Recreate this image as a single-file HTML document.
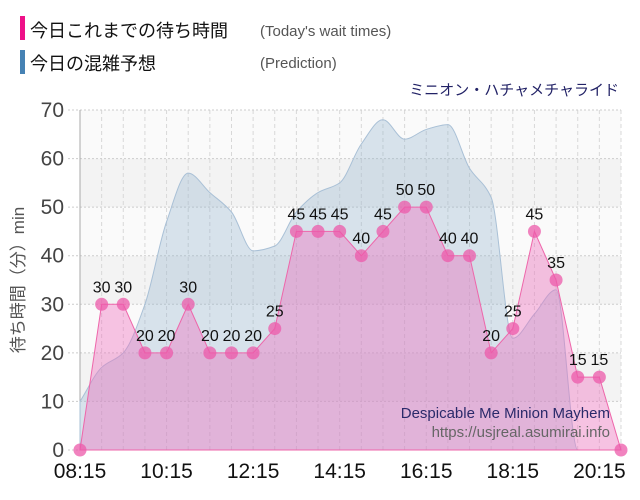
<!DOCTYPE html>
<html><head><meta charset="utf-8"><style>
body{margin:0;background:#fff;width:640px;height:500px;overflow:hidden}
svg{display:block;font-family:"Liberation Sans","Noto Sans CJK JP",sans-serif}
</style></head><body>
<svg id="c" width="640" height="500">
<rect x="20" y="16" width="5" height="24" fill="#ee1188"/>
<text x="30" y="37" font-size="18" fill="#111">今日これまでの待ち時間</text>
<text x="260" y="36" font-size="15" fill="#555">(Today's wait times)</text>
<rect x="20" y="50" width="5" height="24" fill="#4682b4"/>
<text x="30" y="70" font-size="18" fill="#111">今日の混雑予想</text>
<text x="260" y="68" font-size="15" fill="#555">(Prediction)</text>
<text x="619" y="95" font-size="15" fill="#222266" text-anchor="end">ミニオン・ハチャメチャライド</text>
<text transform="translate(24,280) rotate(-90)" font-size="17" fill="#555" text-anchor="middle">待ち時間（分）min</text>
<g id="grid"></g><g id="series"></g><g id="labels"></g>
<text x="610" y="418" font-size="15" fill="#2a2a6a" text-anchor="end">Despicable Me Minion Mayhem</text>
<text x="610" y="437" font-size="15" fill="#666" text-anchor="end">https://usjreal.asumirai.info</text>
</svg>
<script>
const todayValues=[0,30,30,20,20,30,20,20,20,25,45,45,45,40,45,50,50,40,40,20,25,45,35,15,15,0];
const predictionValues=[10,17,20,30,47,57,53,49,41,42,49,53,55,63,68,64,66,67,58,52,23,28,33,0,0,0];
const yTicks=[0,10,20,30,40,50,60,70];
const xTickLabels=["08:15","10:15","12:15","14:15","16:15","18:15","20:15"];
const X0=80,X1=621,Y0=450,Y1=110,N=todayValues.length;
const xs=i=>X0+(X1-X0)*i/(N-1);
const ys=v=>Y0-(Y0-Y1)*v/70;
const NS="http://www.w3.org/2000/svg";
function mk(t,a,p){const e=document.createElementNS(NS,t);for(const k in a)e.setAttribute(k,a[k]);p.appendChild(e);return e;}
const g=document.getElementById('grid'),s=document.getElementById('series'),L=document.getElementById('labels');
for(let k=0;k<7;k++){const r=mk('rect',{x:X0,y:ys((k+1)*10),width:X1-X0,height:ys(k*10)-ys((k+1)*10),fill:k%2?'#f3f3f3':'#fafafa'},g);

}
for(let i=0;i<N;i++){const l=mk('line',{x1:xs(i),x2:xs(i),y1:Y1,y2:Y0,stroke:'#d8d8d8','stroke-dasharray':'4,3'},g);

}
yTicks.forEach(v=>{const l=mk('line',{x1:X0-12,x2:X1,y1:ys(v),y2:ys(v),stroke:'#ccc','stroke-dasharray':'2,2'},g);


const t=mk('text',{x:64,y:ys(v)+7,'font-size':21,fill:'#444','text-anchor':'end'},g);t.textContent=v;

});
const ax=mk('line',{x1:X0,x2:X0,y1:Y1,y2:Y0,stroke:'#aaa'},g);


xTickLabels.forEach((lab,k)=>{const t=mk('text',{x:xs(k*4),y:478,'font-size':21,fill:'#111','text-anchor':'middle'},g);t.textContent=lab;

});
function smooth(vals){const p=vals.map((v,i)=>[xs(i),ys(v)]);const n=p.length,h=p[1][0]-p[0][0];
const d=[];for(let i=0;i<n-1;i++)d.push((p[i+1][1]-p[i][1])/h);
const m=[d[0]];for(let i=1;i<n-1;i++){m.push(d[i-1]*d[i]<=0?0:2/(1/d[i-1]+1/d[i]));}m.push(d[n-2]);
let s='M'+p[0];for(let i=0;i<n-1;i++){s+=` C${p[i][0]+h/3},${p[i][1]+m[i]*h/3} ${p[i+1][0]-h/3},${p[i+1][1]-m[i+1]*h/3} ${p[i+1][0]},${p[i+1][1]}`;}return s;}
const pd=smooth(predictionValues);
const pa=mk('path',{d:pd+` L${xs(N-1)},${Y0} L${X0},${Y0}Z`,fill:'rgba(150,180,205,0.35)',stroke:'#a9c0d6','stroke-width':1},s);


let td='M'+todayValues.map((v,i)=>xs(i)+','+ys(v)).join(' L');
const ta=mk('path',{d:td+` L${xs(N-1)},${Y0} L${X0},${Y0}Z`,fill:'rgba(240,110,190,0.4)',stroke:'#ee66aa','stroke-width':1},s);


todayValues.forEach((v,i)=>{const c=mk('circle',{cx:xs(i),cy:ys(v),r:6.5,fill:'rgba(236,90,170,0.75)'},s);


if(i>0&&i<N-1){const t=mk('text',{x:xs(i),y:ys(v)-12,'font-size':16,fill:'#111','text-anchor':'middle'},L);t.textContent=v;

}});
</script>
</body></html>
